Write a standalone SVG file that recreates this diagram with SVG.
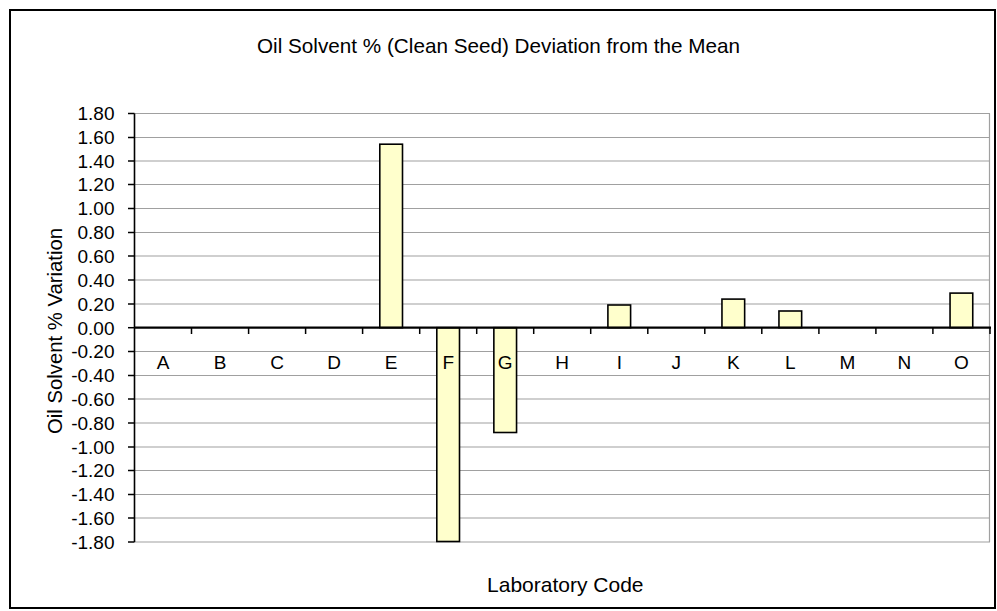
<svg xmlns="http://www.w3.org/2000/svg" width="997" height="611" viewBox="0 0 997 611">
<style>
.t{font-family:"Liberation Sans",Arial,sans-serif;fill:#000}
.yl{font-size:19px;text-anchor:end}
.cl{font-size:19px;text-anchor:middle}
.grid line{stroke:#a0a0a0;stroke-width:1.2}
.bar{fill:#ffffcc;stroke:#000;stroke-width:1.6}
.tick line{stroke:#000;stroke-width:1.5}
</style>
<rect x="0" y="0" width="997" height="611" fill="#fff"/>
<rect x="10" y="10" width="985" height="598" fill="#fff" stroke="#000" stroke-width="2"/>
<text class="t" x="498.5" y="53" font-size="20.7" text-anchor="middle">Oil Solvent % (Clean Seed) Deviation from the Mean</text>
<g id="grid" class="grid">
<line x1="134.5" y1="113.5" x2="990" y2="113.5"/>
<line x1="134.5" y1="137.5" x2="990" y2="137.5"/>
<line x1="134.5" y1="161" x2="990" y2="161"/>
<line x1="134.5" y1="184.5" x2="990" y2="184.5"/>
<line x1="134.5" y1="208.5" x2="990" y2="208.5"/>
<line x1="134.5" y1="232.5" x2="990" y2="232.5"/>
<line x1="134.5" y1="256" x2="990" y2="256"/>
<line x1="134.5" y1="280" x2="990" y2="280"/>
<line x1="134.5" y1="304" x2="990" y2="304"/>
<line x1="134.5" y1="351.5" x2="990" y2="351.5"/>
<line x1="134.5" y1="375.5" x2="990" y2="375.5"/>
<line x1="134.5" y1="399" x2="990" y2="399"/>
<line x1="134.5" y1="423" x2="990" y2="423"/>
<line x1="134.5" y1="447" x2="990" y2="447"/>
<line x1="134.5" y1="470.5" x2="990" y2="470.5"/>
<line x1="134.5" y1="494.5" x2="990" y2="494.5"/>
<line x1="134.5" y1="518" x2="990" y2="518"/>
<line x1="134.5" y1="542" x2="990" y2="542"/>
<line x1="989.5" y1="113.5" x2="989.5" y2="542"/>
</g>
<g id="bars">
<rect id="bar-E" class="bar" x="379.8" y="144.2" width="22.7" height="183.5"/>
<rect id="bar-F" class="bar" x="436.8" y="327.7" width="22.7" height="213.8"/>
<rect id="bar-G" class="bar" x="493.85" y="327.7" width="22.7" height="104.8"/>
<rect id="bar-I" class="bar" x="607.9" y="305" width="22.7" height="22.7"/>
<rect id="bar-K" class="bar" x="721.95" y="299.1" width="22.7" height="28.6"/>
<rect id="bar-L" class="bar" x="778.95" y="311" width="22.7" height="16.7"/>
<rect id="bar-O" class="bar" x="950.05" y="293.1" width="22.7" height="34.6"/>
</g>
<g id="axes">
<line x1="134.5" y1="113.5" x2="134.5" y2="542" stroke="#000" stroke-width="1.6"/>
<line x1="134" y1="327.7" x2="991" y2="327.7" stroke="#000" stroke-width="2.2"/>
<g class="tick">
<line x1="128" y1="113.5" x2="134.5" y2="113.5"/>
<line x1="128" y1="137.5" x2="134.5" y2="137.5"/>
<line x1="128" y1="161" x2="134.5" y2="161"/>
<line x1="128" y1="184.5" x2="134.5" y2="184.5"/>
<line x1="128" y1="208.5" x2="134.5" y2="208.5"/>
<line x1="128" y1="232.5" x2="134.5" y2="232.5"/>
<line x1="128" y1="256" x2="134.5" y2="256"/>
<line x1="128" y1="280" x2="134.5" y2="280"/>
<line x1="128" y1="304" x2="134.5" y2="304"/>
<line x1="128" y1="327.7" x2="134.5" y2="327.7"/>
<line x1="128" y1="351.5" x2="134.5" y2="351.5"/>
<line x1="128" y1="375.5" x2="134.5" y2="375.5"/>
<line x1="128" y1="399" x2="134.5" y2="399"/>
<line x1="128" y1="423" x2="134.5" y2="423"/>
<line x1="128" y1="447" x2="134.5" y2="447"/>
<line x1="128" y1="470.5" x2="134.5" y2="470.5"/>
<line x1="128" y1="494.5" x2="134.5" y2="494.5"/>
<line x1="128" y1="518" x2="134.5" y2="518"/>
<line x1="128" y1="542" x2="134.5" y2="542"/>
<line x1="191.5" y1="327.7" x2="191.5" y2="334"/>
<line x1="248.6" y1="327.7" x2="248.6" y2="334"/>
<line x1="305.6" y1="327.7" x2="305.6" y2="334"/>
<line x1="362.6" y1="327.7" x2="362.6" y2="334"/>
<line x1="419.7" y1="327.7" x2="419.7" y2="334"/>
<line x1="476.7" y1="327.7" x2="476.7" y2="334"/>
<line x1="533.7" y1="327.7" x2="533.7" y2="334"/>
<line x1="590.7" y1="327.7" x2="590.7" y2="334"/>
<line x1="647.8" y1="327.7" x2="647.8" y2="334"/>
<line x1="704.8" y1="327.7" x2="704.8" y2="334"/>
<line x1="761.8" y1="327.7" x2="761.8" y2="334"/>
<line x1="818.9" y1="327.7" x2="818.9" y2="334"/>
<line x1="875.9" y1="327.7" x2="875.9" y2="334"/>
<line x1="932.9" y1="327.7" x2="932.9" y2="334"/>
<line x1="990" y1="327.7" x2="990" y2="334"/>
</g>
</g>
<g id="y-labels" class="t yl">
<text x="114.5" y="120.3">1.80</text>
<text x="114.5" y="144.3">1.60</text>
<text x="114.5" y="167.8">1.40</text>
<text x="114.5" y="191.3">1.20</text>
<text x="114.5" y="215.3">1.00</text>
<text x="114.5" y="239.3">0.80</text>
<text x="114.5" y="262.8">0.60</text>
<text x="114.5" y="286.8">0.40</text>
<text x="114.5" y="310.8">0.20</text>
<text x="114.5" y="334.5">0.00</text>
<text x="114.5" y="358.3">-0.20</text>
<text x="114.5" y="382.3">-0.40</text>
<text x="114.5" y="405.8">-0.60</text>
<text x="114.5" y="429.8">-0.80</text>
<text x="114.5" y="453.8">-1.00</text>
<text x="114.5" y="477.3">-1.20</text>
<text x="114.5" y="501.3">-1.40</text>
<text x="114.5" y="524.8">-1.60</text>
<text x="114.5" y="548.8">-1.80</text>
</g>
<g id="x-labels" class="t cl">
<text x="163" y="369">A</text>
<text x="220" y="369">B</text>
<text x="277.1" y="369">C</text>
<text x="334.1" y="369">D</text>
<text x="391.1" y="369">E</text>
<text x="448.2" y="369">F</text>
<text x="505.2" y="369">G</text>
<text x="562.2" y="369">H</text>
<text x="619.3" y="369">I</text>
<text x="676.3" y="369">J</text>
<text x="733.3" y="369">K</text>
<text x="790.3" y="369">L</text>
<text x="847.4" y="369">M</text>
<text x="904.4" y="369">N</text>
<text x="961.4" y="369">O</text>
</g>
<text class="t" transform="translate(61.5,331) rotate(-90)" font-size="20.3" text-anchor="middle">Oil Solvent % Variation</text>
<text class="t" x="565.3" y="592" font-size="21" text-anchor="middle">Laboratory Code</text>
</svg>
